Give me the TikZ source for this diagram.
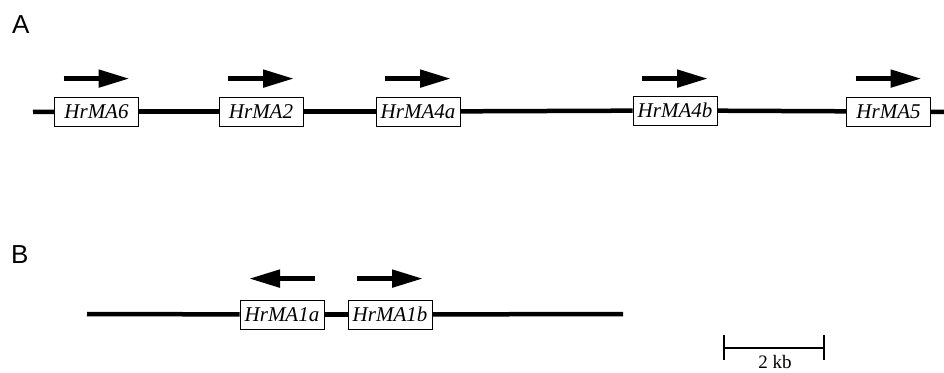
\documentclass[tikz,border=0pt]{standalone}
\usepackage{fontspec}
\setmainfont{Liberation Serif}
\newfontfamily\panelfont{Liberation Sans}
\usepackage{tikz}
\usetikzlibrary{arrows.meta}
\tikzstyle{dna}=[line width=4.5pt]
\tikzstyle{genebox}=[rectangle, draw, line width=0.8pt, fill=white, inner sep=0pt, minimum height=29pt, minimum width=84pt, font=\fontsize{21}{25}\selectfont\itshape]
\tikzstyle{genearrow}=[line width=5pt, -{Triangle[length=31pt, width=17pt]}]
\tikzstyle{panel}=[anchor=base west, inner sep=0pt, font=\panelfont\fontsize{26}{30}\selectfont]
\tikzstyle{scalebar}=[line width=2.5pt]
\newcommand{\gene}[3]{
	\node[genebox] (#1) at (#2) {#3};}
\newcommand{\fwdarrow}[2]{
	\draw[genearrow] ([xshift=-33pt, yshift=#2]#1.north) -- ([xshift=33pt, yshift=#2]#1.north);}
\newcommand{\revarrow}[2]{
	\draw[genearrow] ([xshift=33pt, yshift=#2]#1.north) -- ([xshift=-33pt, yshift=#2]#1.north);}

\begin{document}
\begin{tikzpicture}[x=1pt, y=-1pt]
	\useasboundingbox[fill=white] (0,0) rectangle (944,372);

	% panel A
	\node[panel] (labelA) at (12,33) {A};
	\coordinate (a start) at (33,112);
	\coordinate (a end) at (944,112);
	\gene{hrma6}{96.5,111.5}{HrMA6}
	\gene{hrma2}{261,111.5}{HrMA2}
	\gene{hrma4a}{418,111.5}{HrMA4a}
	\gene{hrma4b}{675,110.5}{HrMA4b}
	\gene{hrma5}{888.5,111.5}{HrMA5}

	\draw[dna] (a start) -- (hrma6);
	\draw[dna] (hrma6) -- (hrma2);
	\draw[dna] (hrma2) -- (hrma4a);
	\draw[dna] (hrma4a) -- (hrma4b);
	\draw[dna] (hrma4b) -- (hrma5);
	\draw[dna] (hrma5) -- (a end);

	\fwdarrow{hrma6}{18pt}
	\fwdarrow{hrma2}{18pt}
	\fwdarrow{hrma4a}{18pt}
	\fwdarrow{hrma4b}{17pt}
	\fwdarrow{hrma5}{18pt}

	% panel B
	\node[panel] (labelB) at (11,263) {B};
	\coordinate (b start) at (87,314);
	\coordinate (b end) at (623,314);
	\gene{hrma1a}{282,314.5}{HrMA1a}
	\gene{hrma1b}{390,314.5}{HrMA1b}

	\draw[dna] (b start) -- (hrma1a);
	\draw[dna] (hrma1a) -- (hrma1b);
	\draw[dna] (hrma1b) -- (b end);

	\revarrow{hrma1a}{21pt}
	\fwdarrow{hrma1b}{21pt}

	% scale bar
	\coordinate (bar left) at (724,348);
	\coordinate (bar right) at (824,348);
	\draw[scalebar] (bar left) -- (bar right);
	\draw[line width=2pt] ([yshift=13pt]bar left) -- ([yshift=-12pt]bar left);
	\draw[line width=2pt] ([yshift=13pt]bar right) -- ([yshift=-12pt]bar right);
	\node[anchor=base, inner sep=0pt, font=\fontsize{19}{23}\selectfont] (barlabel) at (775,368) {2 kb};
\end{tikzpicture}
\end{document}
